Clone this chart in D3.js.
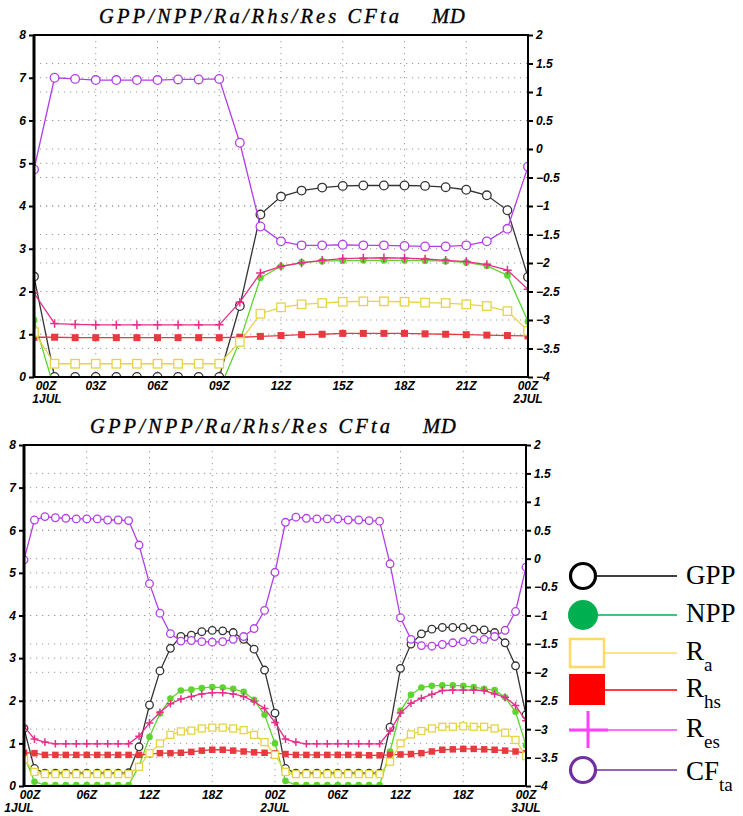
<!DOCTYPE html>
<html>
<head>
<meta charset="utf-8">
<script src="https://cdn.jsdelivr.net/npm/d3@7"></script>
<style>
body { margin: 0; background: #fff; }
svg { display: block; }
.axis text { font-family: "Liberation Sans", Arial, sans-serif; font-weight: bold; font-style: italic; font-size: 12px; fill: #000; }
.title { font-family: "Liberation Serif", "DejaVu Serif", serif; font-style: italic; font-size: 20.5px; fill: #000; stroke: #000; stroke-width: 0.35px; }
.xlab { font-family: "Liberation Sans", Arial, sans-serif; font-weight: bold; font-style: italic; font-size: 12px; fill: #000; }
.leg { font-family: "Liberation Serif", "Times New Roman", serif; font-size: 27px; fill: #000; }
.sub { font-size: 19px; }
</style>
</head>
<body>
<div id="chart"></div>
<script>
// ---- data: 1 day panel, hourly 00Z 1JUL .. 00Z 2JUL (left axis, CFta on right axis)
var gpp1 = [2.35, 0, 0, 0, 0, 0, 0, 0, 0, 0, 1.66, 3.80, 4.22, 4.36, 4.43, 4.47, 4.48, 4.48, 4.48, 4.47, 4.44, 4.38, 4.25, 3.90, 2.34];
var npp1 = [1.33, -0.30, -0.30, -0.30, -0.30, -0.30, -0.30, -0.30, -0.30, -0.30, 0.84, 2.32, 2.59, 2.68, 2.71, 2.72, 2.73, 2.73, 2.73, 2.72, 2.71, 2.68, 2.60, 2.38, 1.30];
var ra1 = [1.05, 0.31, 0.31, 0.31, 0.31, 0.31, 0.31, 0.31, 0.31, 0.31, 0.82, 1.48, 1.63, 1.70, 1.73, 1.76, 1.77, 1.77, 1.76, 1.74, 1.73, 1.70, 1.66, 1.54, 1.08];
var rhs1 = [0.93, 0.93, 0.92, 0.92, 0.92, 0.92, 0.92, 0.92, 0.92, 0.92, 0.93, 0.95, 0.97, 0.99, 1.00, 1.02, 1.02, 1.02, 1.02, 1.01, 1.00, 0.99, 0.98, 0.97, 0.96];
var res1 = [1.96, 1.25, 1.23, 1.22, 1.22, 1.22, 1.22, 1.22, 1.22, 1.22, 1.75, 2.43, 2.59, 2.67, 2.73, 2.77, 2.78, 2.79, 2.78, 2.76, 2.73, 2.70, 2.63, 2.50, 2.05];
var cfta1 = [-0.36, 1.25, 1.23, 1.21, 1.21, 1.21, 1.21, 1.22, 1.22, 1.23, 0.11, -1.36, -1.62, -1.69, -1.69, -1.68, -1.69, -1.69, -1.70, -1.71, -1.71, -1.69, -1.62, -1.40, -0.31];

// ---- data: 2 day panel, hourly 00Z 1JUL .. 00Z 3JUL
var gpp2 = [1.35, 0.41, 0.30, 0.30, 0.30, 0.30, 0.30, 0.30, 0.30, 0.30, 0.31,
  0.92, 1.90, 2.70, 3.23, 3.51, 3.54, 3.62, 3.65, 3.64, 3.60, 3.44, 3.21, 2.72, 1.71, 0.41,
  0.30, 0.30, 0.30, 0.30, 0.30, 0.30, 0.30, 0.30, 0.30,
  1.38, 2.76, 3.33, 3.57, 3.68, 3.72, 3.72, 3.72, 3.68, 3.66, 3.60, 3.36, 2.82, 1.67];
var npp2 = [0.72, 0.10, 0.02, 0.02, 0.02, 0.02, 0.02, 0.02, 0.02, 0.02, 0.02,
  0.47, 1.15, 1.70, 2.05, 2.24, 2.26, 2.30, 2.32, 2.31, 2.28, 2.21, 2.02, 1.67, 1.00, 0.12,
  0.02, 0.02, 0.02, 0.02, 0.02, 0.02, 0.02, 0.02, 0.02,
  0.81, 1.77, 2.14, 2.31, 2.35, 2.36, 2.36, 2.35, 2.32, 2.28, 2.25, 2.08, 1.74, 0.95];
var ra2 = [0.62, 0.33, 0.28, 0.28, 0.28, 0.28, 0.28, 0.28, 0.28, 0.28, 0.28,
  0.45, 0.77, 1.00, 1.20, 1.28, 1.30, 1.35, 1.37, 1.37, 1.35, 1.31, 1.20, 1.03, 0.73, 0.33,
  0.28, 0.28, 0.28, 0.28, 0.28, 0.28, 0.28, 0.28, 0.28,
  0.57, 1.00, 1.21, 1.29, 1.35, 1.39, 1.39, 1.40, 1.39, 1.39, 1.35, 1.25, 1.08, 0.70];
var rhs2 = [0.78, 0.77, 0.73, 0.73, 0.73, 0.73, 0.73, 0.73, 0.73, 0.73, 0.73,
  0.73, 0.75, 0.77, 0.77, 0.78, 0.80, 0.83, 0.85, 0.85, 0.83, 0.81, 0.79, 0.78, 0.77, 0.75,
  0.73, 0.73, 0.73, 0.73, 0.73, 0.73, 0.73, 0.72, 0.72,
  0.73, 0.74, 0.75, 0.77, 0.81, 0.85, 0.86, 0.87, 0.87, 0.86, 0.85, 0.83, 0.81, 0.77];
var res2 = [1.40, 1.10, 1.03, 0.99, 0.99, 0.99, 0.99, 0.99, 0.99, 0.99, 0.99,
  1.17, 1.48, 1.73, 1.93, 2.04, 2.10, 2.16, 2.19, 2.19, 2.16, 2.10, 1.98, 1.82, 1.49, 1.10,
  1.03, 0.99, 0.99, 0.99, 0.99, 0.99, 0.99, 0.99, 0.99,
  1.29, 1.71, 1.94, 2.06, 2.15, 2.24, 2.25, 2.25, 2.25, 2.24, 2.16, 2.08, 1.89, 1.53];
var cfta2 = [-0.02, 0.68, 0.74, 0.72, 0.71, 0.70, 0.70, 0.70, 0.68, 0.68, 0.67,
  0.24, -0.44, -0.96, -1.32, -1.45, -1.44, -1.46, -1.47, -1.46, -1.42, -1.37, -1.23, -0.91, -0.24, 0.64,
  0.73, 0.71, 0.70, 0.70, 0.70, 0.68, 0.68, 0.67, 0.66,
  -0.09, -1.04, -1.42, -1.53, -1.54, -1.51, -1.48, -1.46, -1.43, -1.42, -1.37, -1.26, -0.93, -0.15];

// ---- ticks
var leftTicks = [0, 1, 2, 3, 4, 5, 6, 7, 8];
var rightTicks = [-4, -3.5, -3, -2.5, -2, -1.5, -1, -0.5, 0, 0.5, 1, 1.5, 2];
var xTicks1 = [0, 3, 6, 9, 12, 15, 18, 21, 24];
var xLabels1 = [["00Z", "1JUL"], ["03Z"], ["06Z"], ["09Z"], ["12Z"], ["15Z"], ["18Z"], ["21Z"], ["00Z", "2JUL"]];
var xTicks2 = [0, 6, 12, 18, 24, 30, 36, 42, 48];
var xLabels2 = [["00Z", "1JUL"], ["06Z"], ["12Z"], ["18Z"], ["00Z", "2JUL"], ["06Z"], ["12Z"], ["18Z"], ["00Z", "3JUL"]];
var seriesNames = ["GPP", "NPP", "Ra", "Rhs", "Res", "CFta"];

var width = 743, height = 816;

var svg = d3.select("#chart").append("svg")
    .attr("width", width)
    .attr("height", height);

var styles = {
  GPP:  { color: "#333333", shape: "circle" },
  NPP:  { color: "#5cd62e", shape: "dot" },
  Ra:   { color: "#e6d444", shape: "square" },
  Rhs:  { color: "#e8393f", shape: "fsquare" },
  Res:  { color: "#e62e8a", shape: "plus" },
  CFta: { color: "#b23fe6", shape: "circle" }
};

function minus(d) {
  return (d < 0 ? "\u2212" : "") + Math.abs(d);
}

function drawPanel(id, box, hours, data, xTicks, xLabels, firstShift, msz) {
  var x = d3.scaleLinear().domain([0, hours]).range([box.left, box.right]);
  var yL = d3.scaleLinear().domain([0, 8]).range([box.bottom, box.top]);
  var yR = d3.scaleLinear().domain([-4, 2]).range([box.bottom, box.top]);

  var g = svg.append("g");

  // dotted grid
  var grid = g.append("g").attr("stroke", "#9a9a9a").attr("stroke-width", 1)
      .attr("stroke-dasharray", "1.2,4.8");
  var hy = leftTicks.slice(1, -1).map(yL).concat(rightTicks.slice(1, -1).map(yR));
  grid.selectAll("line.h").data(hy).enter().append("line")
      .attr("x1", box.left).attr("x2", box.right)
      .attr("y1", function(d) { return d; }).attr("y2", function(d) { return d; });
  grid.selectAll("line.v").data(xTicks.slice(1, -1)).enter().append("line")
      .attr("x1", function(d) { return x(d); }).attr("x2", function(d) { return x(d); })
      .attr("y1", box.top).attr("y2", box.bottom);

  // clip to plot
  svg.append("clipPath").attr("id", "clip" + id)
    .append("rect").attr("x", box.left).attr("y", box.top)
    .attr("width", box.right - box.left).attr("height", box.bottom - box.top);

  var plot = g.append("g").attr("clip-path", "url(#clip" + id + ")");

  ["GPP", "NPP", "Rhs", "Ra", "Res", "CFta"].forEach(function(name) {
    var vals = data[name];
    var st = styles[name];
    var y = name === "CFta" ? yR : yL;
    var line = d3.line()
        .x(function(d, i) { return x(i); })
        .y(function(d) { return y(d); });
    plot.append("path").datum(vals)
        .attr("d", line)
        .attr("fill", "none")
        .attr("stroke", st.color)
        .attr("stroke-width", 1.3);

    var m = plot.append("g");
    vals.forEach(function(v, i) {
      var cx = x(i), cy = y(v);
      if (st.shape === "circle") {
        m.append("circle").attr("cx", cx).attr("cy", cy).attr("r", msz.r)
          .attr("fill", "#fff").attr("stroke", st.color).attr("stroke-width", 1.3);
      } else if (st.shape === "dot") {
        m.append("circle").attr("cx", cx).attr("cy", cy).attr("r", msz.dot)
          .attr("fill", st.color);
      } else if (st.shape === "square") {
        m.append("rect").attr("x", cx - msz.sq / 2).attr("y", cy - msz.sq / 2)
          .attr("width", msz.sq).attr("height", msz.sq)
          .attr("fill", "#fff").attr("stroke", st.color).attr("stroke-width", 1.3);
      } else if (st.shape === "fsquare") {
        m.append("rect").attr("x", cx - msz.fsq / 2).attr("y", cy - msz.fsq / 2)
          .attr("width", msz.fsq).attr("height", msz.fsq)
          .attr("fill", st.color);
      } else if (st.shape === "plus") {
        m.append("path")
          .attr("d", "M" + (cx - msz.plus) + "," + cy + "H" + (cx + msz.plus) +
                     "M" + cx + "," + (cy - msz.plus) + "V" + (cy + msz.plus))
          .attr("stroke", st.color).attr("stroke-width", 1.5);
      }
    });
  });

  // axes
  var ax = g.append("g").attr("class", "axis");
  ax.append("g").attr("transform", "translate(" + box.left + ",0)")
    .call(d3.axisLeft(yL).tickValues(leftTicks).tickSize(5).tickSizeOuter(0).tickPadding(3)
      .tickFormat(d3.format("d")));
  ax.append("g").attr("transform", "translate(" + box.right + ",0)")
    .call(d3.axisRight(yR).tickValues(rightTicks).tickSize(5).tickSizeOuter(0).tickPadding(3)
      .tickFormat(minus));
  ax.append("g").attr("transform", "translate(0," + box.bottom + ")")
    .call(d3.axisBottom(x).tickValues(xTicks).tickSize(0).tickSizeOuter(0).tickFormat(""));
  ax.selectAll(".tick line").attr("stroke", "#000").attr("stroke-width", 2);
  ax.selectAll(".domain").remove();

  // frame
  g.append("rect")
    .attr("x", box.left).attr("y", box.top)
    .attr("width", box.right - box.left).attr("height", box.bottom - box.top)
    .attr("fill", "none").attr("stroke", "#000").attr("stroke-width", 2);
  g.append("line").attr("x1", box.left).attr("x2", box.left)
    .attr("y1", box.top).attr("y2", box.bottom + 1)
    .attr("stroke", "#000").attr("stroke-width", 3);

  // time labels
  xTicks.forEach(function(t, k) {
    var lab = xLabels[k];
    lab.forEach(function(s, j) {
      var tx = x(t) + (k === 0 ? firstShift[j] : 0);
      g.append("text").attr("class", "xlab")
        .attr("x", tx).attr("y", box.bottom + 13 + j * 13)
        .attr("text-anchor", "middle")
        .text(s);
    });
  });

  // title
  var tt = g.append("text").attr("class", "title").attr("y", box.top - 12);
  tt.append("tspan").attr("x", box.title).attr("textLength", 300).attr("lengthAdjust", "spacing")
    .text("GPP/NPP/Ra/Rhs/Res CFta");
  tt.append("tspan").attr("x", box.title + 333).attr("letter-spacing", 1)
    .text("MD");
}

drawPanel(1, { left: 34, right: 528, top: 35, bottom: 377, title: 99 }, 24,
  { GPP: gpp1, NPP: npp1, Ra: ra1, Rhs: rhs1, Res: res1, CFta: cfta1 },
  xTicks1, xLabels1, [12, 13], { r: 4.3, dot: 3.4, sq: 8.5, fsq: 7, plus: 4.3 });

drawPanel(2, { left: 24, right: 526, top: 445, bottom: 786, title: 90 }, 48,
  { GPP: gpp2, NPP: npp2, Ra: ra2, Rhs: rhs2, Res: res2, CFta: cfta2 },
  xTicks2, xLabels2, [6, -5], { r: 3.8, dot: 3.3, sq: 7, fsq: 6.5, plus: 3.8 });

// legend
var legendColors = ["#000000", "#00b050", "#ffd966", "#ff0000", "#ff40ff", "#7030a0"];
var legendY = [576, 615, 653, 690, 730, 770];
var leg = svg.append("g");
seriesNames.forEach(function(name, i) {
  var c = legendColors[i], cy = legendY[i];
  leg.append("line").attr("x1", 590).attr("x2", 677).attr("y1", cy).attr("y2", cy)
    .attr("stroke", c).attr("stroke-width", 1.4);
  if (name === "GPP" || name === "CFta") {
    leg.append("circle").attr("cx", 583).attr("cy", cy).attr("r", 12.5)
      .attr("fill", "#fff").attr("stroke", c).attr("stroke-width", 3.2);
  } else if (name === "NPP") {
    leg.append("circle").attr("cx", 583).attr("cy", cy).attr("r", 15).attr("fill", c);
  } else if (name === "Ra") {
    leg.append("rect").attr("x", 570).attr("y", cy - 14).attr("width", 34).attr("height", 28)
      .attr("fill", "#fff").attr("stroke", c).attr("stroke-width", 2.5);
  } else if (name === "Rhs") {
    leg.append("rect").attr("x", 569).attr("y", cy - 16).attr("width", 36).attr("height", 31)
      .attr("fill", c);
  } else {
    leg.append("line").attr("x1", 569).attr("x2", 608).attr("y1", cy).attr("y2", cy)
      .attr("stroke", c).attr("stroke-width", 3);
    leg.append("line").attr("x1", 588).attr("x2", 588).attr("y1", cy - 19).attr("y2", cy + 18)
      .attr("stroke", c).attr("stroke-width", 3);
  }
});

var legText = [
  { main: "GPP", sub: "", y: 584 },
  { main: "NPP", sub: "", y: 622 },
  { main: "R", sub: "a", y: 660 },
  { main: "R", sub: "hs", y: 697 },
  { main: "R", sub: "es", y: 737 },
  { main: "CF", sub: "ta", y: 780 }
];
legText.forEach(function(t) {
  var tx = leg.append("text").attr("class", "leg").attr("x", 686).attr("y", t.y).text(t.main);
  if (t.sub) {
    tx.append("tspan").attr("class", "sub").attr("dy", 11).text(t.sub);
  }
});
</script>
</body>
</html>
